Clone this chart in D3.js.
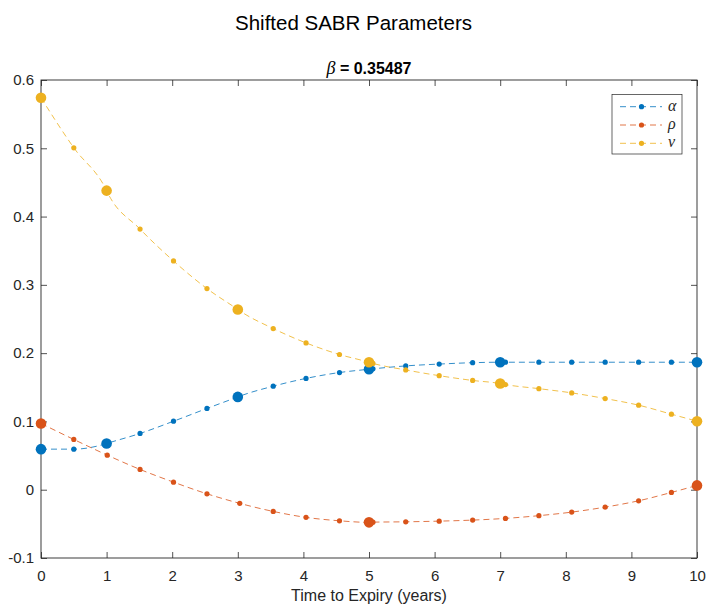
<!DOCTYPE html>
<html>
<head>
<meta charset="utf-8">
<script src="https://cdn.jsdelivr.net/npm/d3@7"></script>
<style>
  html, body { margin: 0; padding: 0; background: #fff; }
  svg { display: block; }
  text { font-family: Arial, "Liberation Sans", Helvetica, sans-serif; fill: #262626; }
</style>
</head>
<body>
<svg id="chart" width="707" height="604"></svg>
<script>
// Calibration expiries (large markers) and the interpolation grid (small markers)
const knotT = [0, 1, 3, 5, 7, 10];
const rhoKnotT = [0, 5, 10];
const gridT = [0.5, 1.01, 1.51, 2.02, 2.53, 3.03, 3.54, 4.04, 4.55, 5.06, 5.56, 6.07, 6.58, 7.08, 7.59, 8.09, 8.6, 9.11, 9.61];

// alpha
const alphaKnots = [0.0594, 0.0677, 0.1359, 0.1764, 0.1867, 0.1867];
const alphaGrid = [0.0594, 0.068, 0.0824, 0.1003, 0.119, 0.137, 0.1516, 0.163, 0.1716, 0.177, 0.1813, 0.184, 0.186, 0.1867, 0.1867, 0.1867, 0.1867, 0.1867, 0.1867];

// rho
const rhoKnots = [0.097, -0.0478, 0.0063];
const rhoGrid = [0.0736, 0.0506, 0.0297, 0.0111, -0.006, -0.020, -0.0318, -0.0405, -0.0455, -0.0475, -0.047, -0.046, -0.0445, -0.042, -0.038, -0.0328, -0.0255, -0.0162, -0.004];

// nu
const nuKnots = [0.574, 0.438, 0.264, 0.1867, 0.1555, 0.1003];
const nuGrid = [0.5007, 0.436, 0.3817, 0.335, 0.2945, 0.262, 0.236, 0.215, 0.198, 0.185, 0.1754, 0.167, 0.160, 0.154, 0.148, 0.1418, 0.1335, 0.1238, 0.1106];

const xTicks = [0, 1, 2, 3, 4, 5, 6, 7, 8, 9, 10];
const yTicks = [-0.1, 0, 0.1, 0.2, 0.3, 0.4, 0.5, 0.6];
const yTickLabels = ["-0.1", "0", "0.1", "0.2", "0.3", "0.4", "0.5", "0.6"];

const seriesNames = ["\u03b1", "\u03c1", "\u03bd"];
const seriesColors = ["#0072BD", "#D95319", "#EDB120"];

const series = [
  { name: seriesNames[0], color: seriesColors[0], knotT: knotT, knots: alphaKnots, grid: alphaGrid },
  { name: seriesNames[1], color: seriesColors[1], knotT: rhoKnotT, knots: rhoKnots, grid: rhoGrid },
  { name: seriesNames[2], color: seriesColors[2], knotT: knotT, knots: nuKnots, grid: nuGrid }
];

const svg = d3.select("#chart");
const W = 707, H = 604;
const m = { left: 41, right: 697, top: 80, bottom: 558 };

const x = d3.scaleLinear().domain([0, 10]).range([m.left, m.right]);
const y = d3.scaleLinear().domain([-0.1, 0.6]).range([m.bottom, m.top]);

svg.append("rect").attr("width", W).attr("height", H).attr("fill", "#fff");

// Figure title
svg.append("text")
  .attr("x", W / 2).attr("y", 30)
  .attr("text-anchor", "middle")
  .style("font-size", "20.5px")
  .style("fill", "#000")
  .text("Shifted SABR Parameters");

// Axes title
const sub = svg.append("text")
  .attr("x", (m.left + m.right) / 2).attr("y", 74)
  .attr("text-anchor", "middle")
  .style("font-size", "16px")
  .style("font-weight", "bold")
  .style("fill", "#000");
sub.append("tspan")
  .style("font-family", "'Liberation Serif', 'DejaVu Serif', serif")
  .style("font-style", "italic")
  .style("font-weight", "normal")
  .style("font-size", "18px")
  .text("\u03b2");
sub.append("tspan").text(" = 0.35487");

// Axes with inward ticks on all four sides
const tickLen = 6;
const gAx = svg.append("g");

gAx.append("g")
  .attr("transform", `translate(0,${m.bottom})`)
  .call(d3.axisBottom(x).tickValues(xTicks).tickSize(-tickLen).tickPadding(tickLen + 6).tickFormat(d3.format("d")))
  .call(g => g.select(".domain").remove());
gAx.append("g")
  .attr("transform", `translate(0,${m.top})`)
  .call(d3.axisTop(x).tickValues(xTicks).tickSize(-tickLen).tickFormat(""))
  .call(g => g.select(".domain").remove());
gAx.append("g")
  .attr("transform", `translate(${m.left},0)`)
  .call(d3.axisLeft(y).tickValues(yTicks).tickSize(-tickLen).tickPadding(tickLen + 1)
    .tickFormat((d, i) => yTickLabels[i]))
  .call(g => g.select(".domain").remove());
gAx.append("g")
  .attr("transform", `translate(${m.right},0)`)
  .call(d3.axisRight(y).tickValues(yTicks).tickSize(-tickLen).tickFormat(""))
  .call(g => g.select(".domain").remove());

gAx.selectAll(".tick line").attr("stroke", "#262626").attr("stroke-width", 0.8);
gAx.selectAll(".tick text")
  .style("font-family", "Arial, 'Liberation Sans', sans-serif")
  .style("font-size", "15px")
  .attr("fill", "#262626");

svg.append("rect")
  .attr("x", m.left).attr("y", m.top)
  .attr("width", m.right - m.left).attr("height", m.bottom - m.top)
  .attr("fill", "none").attr("stroke", "#262626").attr("stroke-width", 0.9);

// X axis label
svg.append("text")
  .attr("x", (m.left + m.right) / 2).attr("y", 601)
  .attr("text-anchor", "middle")
  .style("font-size", "16px")
  .text("Time to Expiry (years)");

// Series: dashed curve through all points, small grid markers, large knot markers
const line = d3.line().x(d => x(d.t)).y(d => y(d.v)).curve(d3.curveMonotoneX);

series.forEach(s => {
  const pts = s.knotT.map((t, i) => ({ t, v: s.knots[i] }))
    .concat(gridT.map((t, i) => ({ t, v: s.grid[i] })))
    .sort((a, b) => a.t - b.t);
  const g = svg.append("g");
  g.append("path")
    .datum(pts)
    .attr("d", line)
    .attr("fill", "none")
    .attr("stroke", s.color)
    .attr("stroke-width", 0.8)
    .attr("stroke-dasharray", "6,4");
  g.selectAll("circle.small")
    .data(gridT.map((t, i) => ({ t, v: s.grid[i] })))
    .join("circle")
    .attr("class", "small")
    .attr("cx", d => x(d.t)).attr("cy", d => y(d.v))
    .attr("r", 2.6)
    .attr("fill", s.color);
  g.selectAll("circle.big")
    .data(s.knotT.map((t, i) => ({ t, v: s.knots[i] })))
    .join("circle")
    .attr("class", "big")
    .attr("cx", d => x(d.t)).attr("cy", d => y(d.v))
    .attr("r", 5.3)
    .attr("fill", s.color);
});

// Legend
const lg = svg.append("g");
lg.append("rect")
  .attr("x", 612).attr("y", 94.5).attr("width", 70).attr("height", 59.5)
  .attr("fill", "#fff").attr("stroke", "#262626").attr("stroke-width", 0.7);
series.forEach((s, i) => {
  const yy = 106.7 + i * 18.3;
  lg.append("line")
    .attr("x1", 620).attr("x2", 662).attr("y1", yy).attr("y2", yy)
    .attr("stroke", s.color).attr("stroke-width", 0.8).attr("stroke-dasharray", "6,4");
  lg.append("circle").attr("cx", 641.5).attr("cy", yy).attr("r", 2.6).attr("fill", s.color);
  lg.append("text")
    .attr("x", 668).attr("y", yy + 4)
    .style("font-family", "'Liberation Serif', 'DejaVu Serif', serif")
    .style("font-style", "italic")
    .style("font-size", "16px")
    .text(s.name);
});
</script>
</body>
</html>
